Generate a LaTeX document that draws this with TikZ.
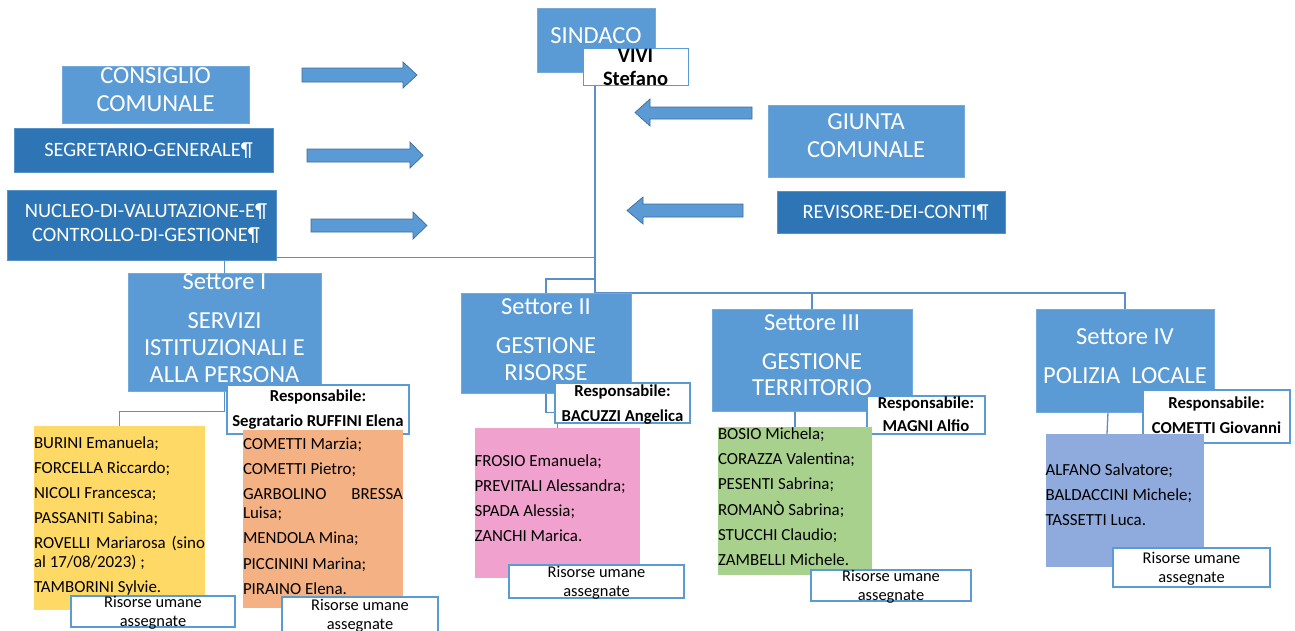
\documentclass[tikz,border=0pt]{standalone}
\usepackage{fontspec}
\setmainfont{Carlito}
\definecolor{lblue}{HTML}{5B9BD5}
\definecolor{dblue}{HTML}{2E75B6}
\definecolor{lnblue}{HTML}{5B8FC9}
\definecolor{ayel}{HTML}{FFD966}
\definecolor{aora}{HTML}{F4B183}
\definecolor{apink}{HTML}{F0A1CD}
\definecolor{agreen}{HTML}{A9D18E}
\definecolor{aviol}{HTML}{8FAADC}
\newcommand\myzero[2]{\raisebox{#1}[0pt][0pt]{\vbox to 0pt{\vss\hbox{#2}\vss}}}
\newcommand\mytxtc[2]{\myzero{#1}{\begin{tabular}{@{}c@{}}#2\end{tabular}}}
\newcommand\mytxtl[3]{\makebox[#1][l]{\myzero{#2}{\begin{tabular}{@{}l@{}}#3\end{tabular}}}}
\pgfdeclarelayer{back}
\pgfdeclarelayer{lines}
\pgfsetlayers{back,lines,main}
\tikzset{
  hdr/.style={fill=lblue, draw=lblue!85!white, line width=0.6pt, text=white, inner sep=0pt, font=\fontsize{24.5}{27}\selectfont},
  dk/.style={fill=dblue, draw=dblue!80!white, line width=0.6pt, text=white, inner sep=0pt, font=\fontsize{20.4}{24}\selectfont},
  resp/.style={fill=white, draw=lblue, line width=1.2pt, inner sep=0pt, font=\bfseries\fontsize{16.7}{25}\selectfont},
  risorse/.style={fill=white, draw=lblue, line width=1.2pt, inner sep=0pt, font=\fontsize{16.4}{18.5}\selectfont},
  lst/.style={inner sep=0pt, font=\fontsize{16.9}{19.5}\selectfont},
  conn/.style={draw=lnblue, line width=1.3pt},
  barrow/.style={fill=lblue, draw=lblue!70!black, line width=0.7pt},
  sz/.style 2 args={minimum width=#1, minimum height=#2}
}
\begin{document}
\begin{tikzpicture}[x=1pt,y=-1pt]
\useasboundingbox (0,0) rectangle (1295,630);
\begin{pgfonlayer}{back}
\fill[white] (0,0) rectangle (1295,630);
\end{pgfonlayer}

% top boxes
\node[hdr, sz={118pt}{64pt}] (sind) at (596,40) {\mytxtc{2pt}{SINDACO}};
\node[resp, sz={105pt}{37pt}, line width=1pt, font=\bfseries\fontsize{20.5}{23}\selectfont] (vivi) at (635.5,66.5) {\mytxtc{-3pt}{VIVI\\Stefano}};
\node[hdr, sz={187pt}{57pt}, font=\fontsize{24.5}{28}\selectfont] (cons) at (155.5,94.5) {\mytxtc{2.5pt}{CONSIGLIO\\COMUNALE}};
\node[dk, sz={259pt}{44pt}] (segr) at (143.5,150) {\hspace*{10pt}\mytxtc{-1.5pt}{SEGRETARIO-GENERALE¶}};
\node[dk, sz={269pt}{70pt}] (nucl) at (141.5,225) {\hspace*{9pt}\mytxtc{0pt}{NUCLEO-DI-VALUTAZIONE-E¶\\CONTROLLO-DI-GESTIONE¶}};
\node[hdr, sz={196pt}{72pt}, font=\fontsize{24.5}{28}\selectfont] (giun) at (866,141) {\mytxtc{3pt}{GIUNTA\\COMUNALE}};
\node[dk, sz={228pt}{42pt}] (rev) at (891,212) {\hspace*{9pt}\mytxtc{-1.5pt}{REVISORE-DEI-CONTI¶}};

% block arrows
\filldraw[barrow] (302,68) -- (403,68) -- (403,62) -- (417,75) -- (403,88) -- (403,82) -- (302,82) -- cycle;
\filldraw[barrow] (307,149) -- (410,149) -- (410,142) -- (423,155.5) -- (410,168) -- (410,162) -- (307,162) -- cycle;
\filldraw[barrow] (311,219) -- (413,219) -- (413,212) -- (427,225.5) -- (413,239) -- (413,232) -- (311,232) -- cycle;
\filldraw[barrow] (752,107) -- (650,107) -- (650,99) -- (635,112.5) -- (650,126) -- (650,119) -- (752,119) -- cycle;
\filldraw[barrow] (743,204) -- (643,204) -- (643,197) -- (627,210.5) -- (643,224) -- (643,217) -- (743,217) -- cycle;

% settori
\node[hdr, sz={193pt}{118pt}] (s1) at (224.5,332) {\mytxtc{1pt}{Settore I\\[12pt]SERVIZI\\ISTITUZIONALI E\\ALLA PERSONA}};
\node[hdr, sz={170pt}{100pt}, font=\fontsize{24.5}{26.5}\selectfont] (s2) at (546,343) {\mytxtc{1pt}{Settore II\\[12.5pt]GESTIONE\\RISORSE}};
\node[hdr, sz={200pt}{102pt}, font=\fontsize{24.5}{26.5}\selectfont] (s3) at (812,360) {\mytxtc{2.5pt}{Settore III\\[12.5pt]GESTIONE\\TERRITORIO}};
\node[hdr, sz={178pt}{103pt}] (s4) at (1125,360.5) {\mytxtc{2pt}{Settore IV\\[12pt]POLIZIA\ \ LOCALE}};

% responsabili
\node[resp, sz={182pt}{49pt}] (r1) at (318,409.5) {\mytxtc{0.5pt}{Responsabile:\\Segratario RUFFINI Elena}};
\node[resp, sz={135pt}{40pt}] (r2) at (622.5,403) {\mytxtc{-1pt}{Responsabile:\\BACUZZI Angelica}};
\node[resp, sz={118pt}{38pt}, font=\bfseries\fontsize{16.7}{23}\selectfont] (r3) at (926,415) {\mytxtc{0pt}{Responsabile:\\MAGNI Alfio}};
\node[resp, sz={147pt}{53pt}] (r4) at (1216.5,416.5) {\mytxtc{0.5pt}{Responsabile:\\COMETTI Giovanni}};

% liste
\node[lst, fill=ayel, sz={171pt}{184pt}] (l1) at (119.5,518) {\mytxtl{171pt}{1.5pt}{BURINI Emanuela;\\[5.5pt]FORCELLA Riccardo;\\[5.5pt]NICOLI Francesca;\\[5.5pt]PASSANITI Sabina;\\[5.5pt]\makebox[171pt][s]{ROVELLI\hfill Mariarosa\hfill (sino}\\al 17/08/2023) ;\\[5.5pt]TAMBORINI Sylvie.}};
\node[lst, fill=aora, sz={160pt}{178pt}] (l2) at (323,519) {\mytxtl{160pt}{1pt}{COMETTI Marzia;\\[5.5pt]COMETTI Pietro;\\[5.5pt]\makebox[160pt][s]{GARBOLINO\hfill BRESSA}\\Luisa;\\[5.5pt]MENDOLA Mina;\\[6.5pt]PICCININI Marina;\\[5.5pt]PIRAINO Elena.}};
\node[lst, fill=apink, sz={165pt}{150pt}] (l3) at (557.5,503) {\hspace*{-1pt}\mytxtl{165pt}{2.5pt}{FROSIO Emanuela;\\[5.5pt]PREVITALI Alessandra;\\[5.5pt]SPADA Alessia;\\[5.5pt]ZANCHI Marica.}};
\node[lst, fill=agreen, sz={154pt}{148pt}] (l4) at (795,501) {\mytxtl{154pt}{2.5pt}{BOSIO Michela;\\[5.5pt]CORAZZA Valentina;\\[5.5pt]PESENTI Sabrina;\\[5.5pt]ROMANÒ Sabrina;\\[5.5pt]STUCCHI Claudio;\\[5.5pt]ZAMBELLI Michele.}};
\node[lst, fill=aviol, sz={158pt}{133pt}] (l5) at (1125,500.5) {\hspace*{-1pt}\mytxtl{158pt}{4pt}{ALFANO Salvatore;\\[5.5pt]BALDACCINI Michele;\\[5.5pt]TASSETTI Luca.}};

% risorse
\node[risorse, sz={164pt}{31pt}] (h1) at (153,611.5) {\mytxtc{-2pt}{Risorse umane\\assegnate}};
\node[risorse, sz={156pt}{36pt}] (h2) at (360,615) {\mytxtc{-1.5pt}{Risorse umane\\assegnate}};
\node[risorse, sz={175pt}{33pt}] (h3) at (596.5,581.5) {\mytxtc{-2pt}{Risorse umane\\assegnate}};
\node[risorse, sz={160pt}{31pt}] (h4) at (891,585.5) {\mytxtc{-2pt}{Risorse umane\\assegnate}};
\node[risorse, sz={157pt}{39pt}] (h5) at (1191.5,567.5) {\mytxtc{-2pt}{Risorse umane\\assegnate}};

% connectors
\begin{pgfonlayer}{lines}
\coordinate (j0) at (595,293);
\coordinate (jn) at (595,257.5);
\coordinate (j2) at (595,279);
\draw[conn] (vivi.south -| j0) -- (j0);
\draw[conn] (jn) -| (s1.north);
\draw[conn] (j2) -| (s2.north);
\draw[conn] (j0) -| (s4.north);
\draw[conn] (s3.north |- j0) -- (s3.north);
\draw[conn] (s1.south) -- ++(0,20.5) -| (l1.north);
\draw[conn] (s2.south) -- ++(0,19) -| (l3.north);
\draw[conn] (s3.south -| l4.north) -- (l4.north);
\draw[conn] ([xshift=-17pt]s4.south) -- ([xshift=-18pt]l5.north);
\end{pgfonlayer}
\end{tikzpicture}
\end{document}
